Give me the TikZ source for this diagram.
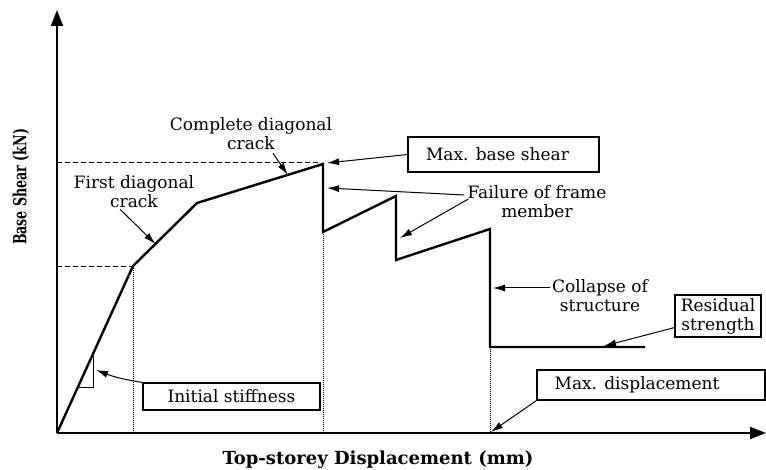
\documentclass[tikz,border=0pt]{standalone}
\usepackage{fontspec}
\setmainfont{DejaVu Serif}
\usetikzlibrary{arrows}
\usetikzlibrary{arrows.meta}
\usetikzlibrary{calc}
\tikzstyle{axis} = [line width=1.8pt, -{Triangle[length=16pt,width=12pt]}]
\tikzstyle{curve} = [line width=2.4pt, line join=miter]
\tikzstyle{guideh} = [dashed, dash pattern=on 5pt off 3pt, line width=0.8pt]
\tikzstyle{guidev} = [densely dotted, line width=1pt]
\tikzstyle{labelbox} = [rectangle, draw=black, line width=1.1pt, fill=white, inner sep=2pt, align=center, font=\fontsize{17}{19}\selectfont]
\tikzstyle{note} = [align=center, inner sep=1pt, font=\fontsize{17}{19}\selectfont]
\tikzstyle{arrow} = [-{Latex[length=12pt,width=7pt]}, line width=1pt]

\begin{document}
\begin{tikzpicture}[x=1pt, y=-1pt]
  \useasboundingbox (0,0) rectangle (766,470);

  % We start by placing the points of the curve
  \coordinate (O) at (57,433);
  \coordinate (A) at (133,266);
  \coordinate (B) at (197,203);
  \coordinate (P) at (323,164);
  \coordinate (P2) at (323,232);
  \coordinate (Q) at (396,196);
  \coordinate (Q2) at (396,260);
  \coordinate (R) at (490,229);
  \coordinate (R2) at (490,347);
  \coordinate (E) at (645,347);
  \coordinate (ytop) at (57,10);
  \coordinate (xend) at (766,433);

  % axes and guide lines
  \draw [guideh] (O |- 0,162) -- (320,162);
  \draw [guideh] (O |- A) -- (A);
  \draw [guidev] (A) -- (A |- O);
  \draw [guidev] (P) -- (P |- O);
  \draw [guidev] (R2) -- (R2 |- O);
  \draw [axis] (O) -- (ytop);
  \draw [axis] (O) -- (xend);

  % the curve
  \draw [curve] (O) -- (A) -- (B) -- (P) -- (P2) -- (Q) -- (Q2) -- (R) -- (R2) -- (E);
  \draw [line width=1pt] (79,387) -- (93,387) -- (93,356);

  % labels
  \node (ylabel) [rotate=90, xscale=0.7, font=\bfseries\fontsize{18}{20}\selectfont] at (21,187) {Base Shear (kN)};
  \node (xlabel) [font=\bfseries\fontsize{18}{20}\selectfont] at (378,460) {Top-storey Displacement (mm)};
  \node (fdc) [note] at (134,192) {First diagonal\\crack};
  \node (cdc) [note] at (251,134) {Complete diagonal\\crack};
  \node (failure) [note] at (537,202) {Failure of frame\\member};
  \node (collapse) [note] at (600,296) {Collapse of\\structure};
  \node (maxshear) [labelbox, minimum width=191pt, minimum height=35pt] at (503.5,154.5) {Max. base shear\hspace{12pt}};
  \node (stiff) [labelbox, minimum width=177pt, minimum height=27pt] at (231.5,396.5) {Initial stiffness};
  \node (res) [labelbox, minimum width=86pt, minimum height=42pt] at (718,316) {Residual\\strength};
  \node (maxdisp) [labelbox, minimum width=228pt, minimum height=30pt] at (651,385) {Max. displacement\hspace{28pt}};

  % arrow tips
  \coordinate (tipfdc) at ($(A)!0.35!(B)$);
  \coordinate (tipcdc) at ($(B)!0.72!(P)$);
  \coordinate (tipshear) at (327,163);
  \coordinate (tipfail1) at (327,188);
  \coordinate (tipfail2) at (400,238);
  \coordinate (tipcollapse) at (493,288);
  \coordinate (tipres) at (604,346);
  \coordinate (tipdisp) at (491,432);
  \coordinate (tipstiff) at (96,370);

  % draw connections between nodes
  \draw [arrow] ($(fdc.south)+(-14,0)$) -- (tipfdc);
  \draw [arrow] ($(cdc.south)+(22,2)$) -- (tipcdc);
  \draw [arrow] (maxshear.west) -- (tipshear);
  \draw [arrow] ($(failure.west)+(-2,-7)$) -- (tipfail1);
  \draw [arrow] ($(failure.west)+(2,-3)$) -- (tipfail2);
  \draw [arrow] ($(collapse.west)+(-1,-8)$) -- (tipcollapse);
  \draw [arrow] ($(res.south west)+(0,-10)$) -- (tipres);
  \draw [arrow] (maxdisp.south west) -- (tipdisp);
  \draw [arrow] (stiff.north west) to[bend left=6] (tipstiff);

\end{tikzpicture}
\end{document}
